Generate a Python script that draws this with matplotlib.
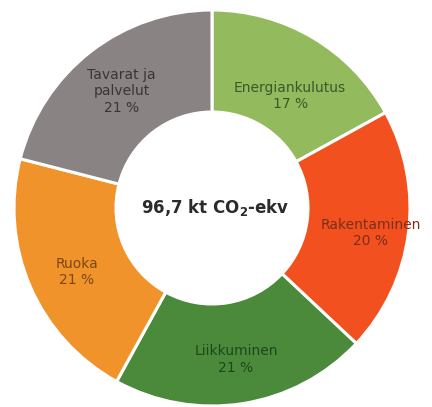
import numpy as np
import matplotlib
matplotlib.use("Agg")
import matplotlib.pyplot as plt

categories = ["Energiankulutus", "Rakentaminen", "Liikkuminen", "Ruoka", "Tavarat ja\npalvelut"]
shares = [17, 20, 21, 21, 21]
pct_labels = ["17 %", "20 %", "21 %", "21 %", "21 %"]
center_label = r"96,7 kt CO$_{\mathbf{2}}$-ekv"

colors = ["#93bb5d", "#f2511f", "#4b8a3b", "#f0932b", "#8a8384"]
text_colors = ["#3b5828", "#7c2e1a", "#1f471b", "#7a4816", "#3a3536"]
label_r = [0.69, 0.81, 0.775, 0.755, 0.745]
label_dang = [-4.3, -1.8, 0, 2, 0]  # small angular nudges (degrees, clockwise positive)

plt.rcParams["mathtext.fontset"] = "dejavusans"
fig = plt.figure(figsize=(4.32, 4.07), dpi=100)
ax = fig.add_axes([0, 0, 1, 1])
ax.axis("off")

wedges, _ = ax.pie(shares, colors=colors, startangle=90, counterclock=False,
                   radius=1.0, wedgeprops=dict(width=1 - 96 / 198, edgecolor="white", linewidth=2.2))

for w, cat, pct, tc, r, da in zip(wedges, categories, pct_labels, text_colors, label_r, label_dang):
    ang = np.deg2rad((w.theta1 + w.theta2) / 2 + da)
    x, y = r * np.cos(ang), r * np.sin(ang)
    ax.text(x, y, f"{cat}\n{pct}", ha="center", va="center", fontsize=10,
            color=tc, linespacing=1.25)

ax.text(0.015, 0.0, center_label, ha="center", va="center", fontsize=12,
        fontweight="bold", color="#2b2b2b")

ax.set_aspect("auto")
ax.set_xlim(-212 / 198, (432 - 212) / 198)
ax.set_ylim(-199 / 198, 208 / 198)

fig.savefig("out.png", dpi=100, facecolor="white")
